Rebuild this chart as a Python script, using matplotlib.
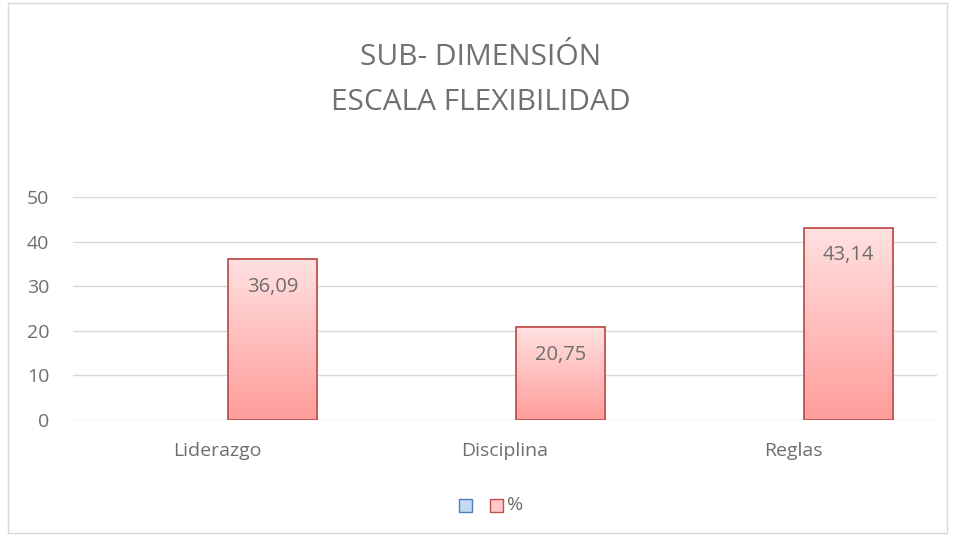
import numpy as np
import matplotlib.pyplot as plt
from matplotlib.patches import Rectangle
from matplotlib.colors import LinearSegmentedColormap

categories = ['Liderazgo', 'Disciplina', 'Reglas']
blank_values = [0, 0, 0]
pct_values = [36.09, 20.75, 43.14]
pct_labels = ['36,09', '20,75', '43,14']
yticks = [0, 10, 20, 30, 40, 50]

plt.rcParams['font.family'] = ['Open Sans', 'DejaVu Sans']
text_col = '#6e6e6e'

fig = plt.figure(figsize=(9.55, 5.36), dpi=100)
fig.patches.append(Rectangle((0.008, 0.005), 0.984, 0.99, transform=fig.transFigure,
                             fill=False, edgecolor='#d9d9d9', linewidth=1))
ax = fig.add_axes([0.0764, 0.2164, 0.9047, 0.4161])

x = np.arange(len(categories))
w = 0.309
off = 0.038
ax.bar(x + off - w, blank_values, w, align='edge', color='#c6d9f1', linewidth=0)
bars = ax.bar(x + off, pct_values, w, align='edge', color='none',
              edgecolor='#c0504d', linewidth=1.3, zorder=3)

# vertical gradient fill for the red bars
grad = np.linspace(0, 1, 256).reshape(-1, 1)
cmap = LinearSegmentedColormap.from_list('pinks', ['#ff9d9b', '#ffe1e1'])
for b in bars:
    x0, y0 = b.get_x(), b.get_y()
    im = ax.imshow(grad, extent=[x0, x0 + b.get_width(), y0, y0 + b.get_height()],
                   origin='lower', cmap=cmap, aspect='auto', zorder=2)
    im.set_clip_path(b)

for b, lab in zip(bars, pct_labels):
    ax.text(b.get_x() + b.get_width() / 2, b.get_height() - 6.2, lab,
            ha='center', va='center', fontsize=14.5, color=text_col, zorder=4)

ax.set_xlim(-0.5, 2.5)
ax.set_ylim(0, 50)
ax.set_yticks(yticks)
ax.set_xticks(x)
ax.set_xticklabels(categories)
ax.tick_params(axis='both', length=0, labelsize=14, colors=text_col)
ax.tick_params(axis='x', pad=16)
ax.tick_params(axis='y', pad=17)
ax.grid(axis='y', color='#d9d9d9', linewidth=1)
ax.set_axisbelow(True)
for s in ax.spines.values():
    s.set_visible(False)

fig.text(0.503, 0.893, 'SUB- DIMENSIÓN', ha='center', va='center', fontsize=21.5,
         color='#707070')
fig.text(0.503, 0.808, 'ESCALA FLEXIBILIDAD', ha='center', va='center', fontsize=21.5,
         color='#707070')

# legend
ly = 0.0578
bw, bh = 0.0136, 0.0243
fig.patches.append(Rectangle((0.4806, ly - bh / 2), bw, bh, transform=fig.transFigure,
                             facecolor='#c6d9f1', edgecolor='#4f81bd', linewidth=1))
fig.patches.append(Rectangle((0.513, ly - bh / 2), bw, bh, transform=fig.transFigure,
                             facecolor='#ffc7c7', edgecolor='#c0504d', linewidth=1))
fig.text(0.5305, ly, '%', ha='left', va='center', fontsize=14, color=text_col)

fig.savefig('out.png', dpi=100)
